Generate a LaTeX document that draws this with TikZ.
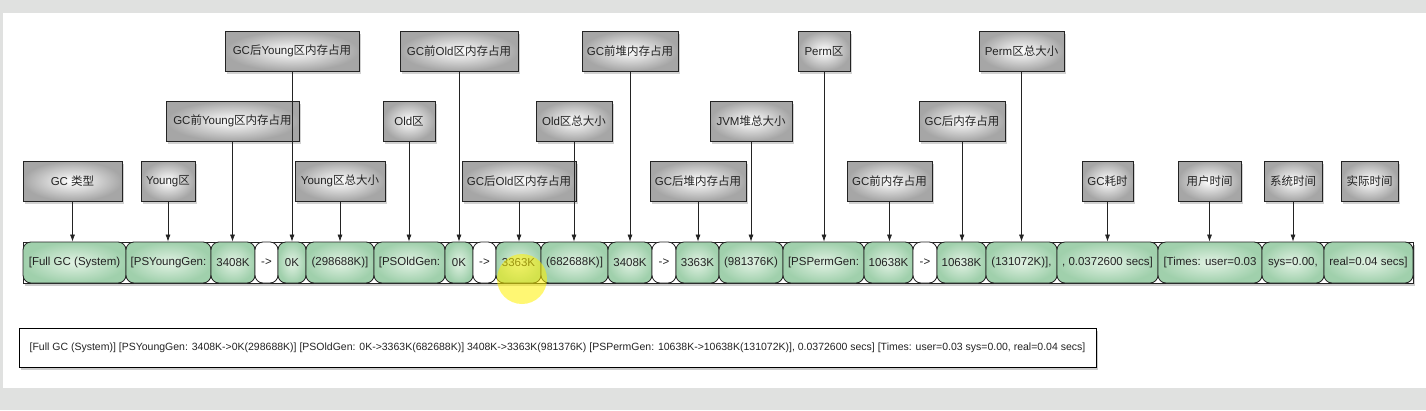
\documentclass[tikz,border=0pt]{standalone}
\usepackage{fontspec}
\setmainfont{Liberation Sans}
\newfontfamily\zhfont{Noto Sans CJK SC}
\newcommand{\zh}[1]{{\zhfont #1}}
\usetikzlibrary{arrows.meta,shadows}

\definecolor{segGreen}{RGB}{160,208,172}
\definecolor{segLight}{RGB}{226,242,228}
\definecolor{panelGray}{RGB}{224,225,224}
\definecolor{inkGray}{RGB}{35,35,35}

\tikzset{
  lab/.style={draw=inkGray, line width=0.8pt, inner color=white, outer color=gray!70,
    minimum height=40, inner sep=0pt, text=inkGray, font=\fontsize{11.5}{13}\selectfont,
    drop shadow={shadow xshift=1.5pt, shadow yshift=-3pt, opacity=0.35}},
  seg/.style={draw=inkGray, line width=0.8pt, rounded corners=8pt, inner color=segLight,
    outer color=segGreen, minimum height=41, inner sep=0pt,
    text=inkGray, font=\fontsize{11.5}{13}\selectfont},
  segw/.style={draw=inkGray, line width=0.8pt, rounded corners=8pt, fill=white,
    minimum height=41, inner sep=0pt, text=inkGray, font=\fontsize{11.5}{13}\selectfont},
  barframe/.style={draw=inkGray, line width=0.8pt, fill=white,
    drop shadow={shadow xshift=1.5pt, shadow yshift=-3pt, opacity=0.4}},
  arr/.style={draw=inkGray, line width=0.7pt, -{Latex[length=7pt,width=5pt]}},
  logbox/.style={draw=black, line width=0.8pt, fill=white, minimum width=1077,
    minimum height=39, inner sep=0pt, text=inkGray, font=\fontsize{10.5}{12}\selectfont,
    drop shadow={shadow xshift=1.5pt, shadow yshift=-3pt, opacity=0.4}},
}

\begin{document}
\begin{tikzpicture}[x=1pt, y=-1pt]
    % --- screen background ---
    \fill[panelGray] (0,0) rectangle (1426,410);
    \fill[white] (3,13) rectangle (1426,388);
    \useasboundingbox (0,0) rectangle (1426,410);

    % --- label boxes, top row ---
    \node[lab, minimum width=134] (lGCAfterYoung)  at (292,51)    {GC\zh{后}Young\zh{区内存占用}};
    \node[lab, minimum width=118] (lGCBeforeOld)   at (459,51)    {GC\zh{前}Old\zh{区内存占用}};
    \node[lab, minimum width=96]  (lGCBeforeHeap)  at (630,51)    {GC\zh{前堆内存占用}};
    \node[lab, minimum width=52]  (lPerm)          at (824,51)    {Perm\zh{区}};
    \node[lab, minimum width=85]  (lPermTotal)     at (1021.5,51) {Perm\zh{区总大小}};

    % --- label boxes, middle row ---
    \node[lab, minimum width=133] (lGCBeforeYoung) at (232.5,121) {GC\zh{前}Young\zh{区内存占用}};
    \node[lab, minimum width=52]  (lOld)           at (409,121)   {Old\zh{区}};
    \node[lab, minimum width=76]  (lOldTotal)      at (574,121)   {Old\zh{区总大小}};
    \node[lab, minimum width=82]  (lJvmTotal)      at (751,121)   {JVM\zh{堆总大小}};
    \node[lab, minimum width=86]  (lGCAfter)       at (962,121)   {GC\zh{后内存占用}};

    % --- label boxes, bottom row ---
    \node[lab, minimum width=99]  (lType)          at (72.5,181)   {GC \zh{类型}};
    \node[lab, minimum width=54]  (lYoung)         at (168,181)    {Young\zh{区}};
    \node[lab, minimum width=90]  (lYoungTotal)    at (340,181)    {Young\zh{区总大小}};
    \node[lab, minimum width=114] (lGCAfterOld)    at (519,181)    {GC\zh{后}Old\zh{区内存占用}};
    \node[lab, minimum width=96]  (lGCAfterHeap)   at (698,181)    {GC\zh{后堆内存占用}};
    \node[lab, minimum width=85]  (lGCBefore)      at (889.5,181)  {GC\zh{前内存占用}};
    \node[lab, minimum width=51]  (lGCTime)        at (1107.5,181) {GC\zh{耗时}};
    \node[lab, minimum width=63]  (lUser)          at (1209.5,181) {\zh{用户时间}};
    \node[lab, minimum width=58]  (lSys)           at (1293,181)   {\zh{系统时间}};
    \node[lab, minimum width=57]  (lReal)          at (1369.5,181) {\zh{实际时间}};

    % --- the log line cut into pieces ---
    \draw[barframe] (23,242) rectangle (1413,283);
    \foreach \l/\r/\sty/\txt [count=\i] in {
        23/126/seg/{[Full GC (System)}, 126/211/seg/{[PSYoungGen:}, 211/255/seg/3408K,
        255/278/segw/{->}, 278/306/seg/0K, 306/374/seg/{(298688K)]},
        374/445/seg/{[PSOldGen:}, 445/473/seg/0K, 473/496/segw/{->},
        496/541/seg/3363K, 541/608/seg/{(682688K)]}, 608/652/seg/3408K,
        652/676/segw/{->}, 676/719/seg/3363K, 719/783/seg/{(981376K)},
        783/864/seg/{[PSPermGen:}, 864/913/seg/10638K, 913/937/segw/{->},
        937/986/seg/10638K, 986/1057/seg/{(131072K)],}, 1057/1158/seg/{, 0.0372600 secs]},
        1158/1262/seg/{[Times: user=0.03}, 1262/1324/seg/{sys=0.00,}, 1324/1413/seg/{real=0.04 secs]}}
    {
        \node[\sty, minimum width={\r-\l}] (s\i) at ({(\l+\r)/2},262.5) {\txt};
    }

    % --- pointers from labels to pieces ---
    \foreach \a/\b in {lType/s1, lYoung/s2, lGCBeforeYoung/s3, lGCAfterYoung/s5,
        lYoungTotal/s6, lOld/s7, lGCBeforeOld/s8, lGCAfterOld/s10, lOldTotal/s11,
        lGCBeforeHeap/s12, lGCAfterHeap/s14, lJvmTotal/s15, lPerm/s16, lGCBefore/s17,
        lGCAfter/s19, lPermTotal/s20, lGCTime/s21, lUser/s22, lSys/s23}
    {
        \draw[arr] (\a) -- (\a |- \b.north);
    }

    % --- cursor highlight ---
    \fill[yellow, opacity=0.55] (522,279) circle (25);

    % --- full log line ---
    \node[logbox] (log) at (557.5,347.5) {[Full GC (System)] [PSYoungGen: 3408K->0K(298688K)] [PSOldGen: 0K->3363K(682688K)] 3408K->3363K(981376K) [PSPermGen: 10638K->10638K(131072K)], 0.0372600 secs] [Times: user=0.03 sys=0.00, real=0.04 secs]};
\end{tikzpicture}
\end{document}
